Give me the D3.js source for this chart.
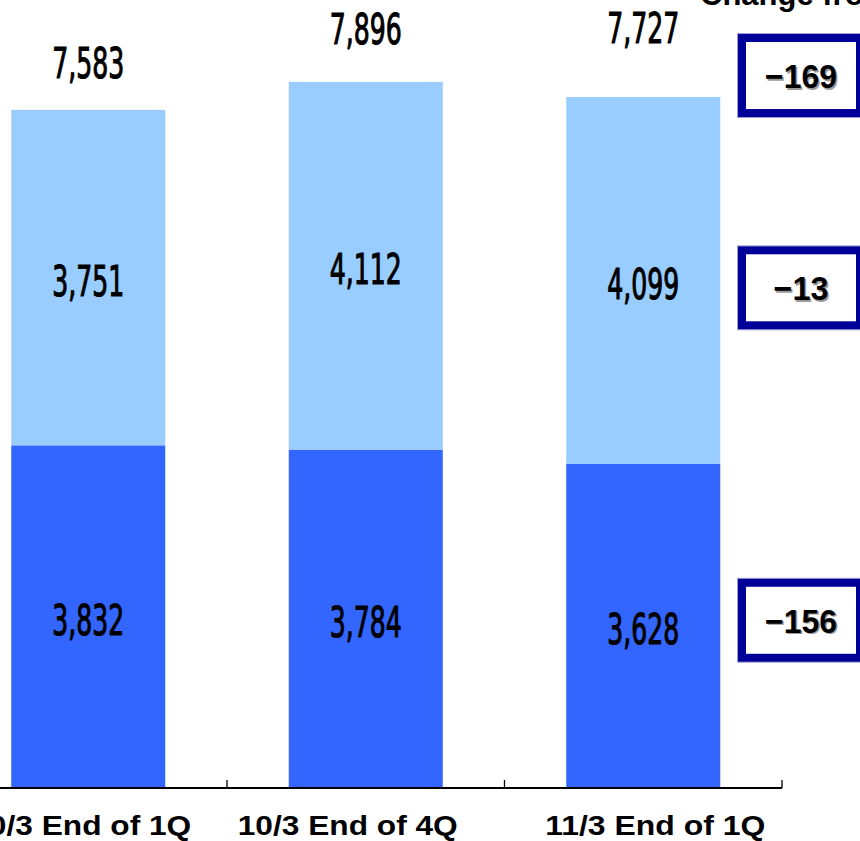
<!DOCTYPE html>
<html>
<head>
<meta charset="utf-8">
<script src="https://cdn.jsdelivr.net/npm/d3@7"></script>
<style>
  html, body { margin: 0; padding: 0; background: #fff; }
  svg { display: block; }
</style>
</head>
<body>
<svg id="chart" width="860" height="841"></svg>
<script>
// Periods shown on the x axis
const categories = ["10/3 End of 1Q", "10/3 End of 4Q", "11/3 End of 1Q"];
// Stacked series (bottom segment, top segment)
const lowerValues = [3832, 3784, 3628];
const upperValues = [3751, 4112, 4099];
const totals = [7583, 7896, 7727];
// Change panel heading
const changeTitle = "Change from the end of 4Q";

const fmt = d3.format(",");
const baseY = 788;

const svg = d3.select("#chart");

const x = d3.scaleBand()
  .domain(categories)
  .range([-50.5, 782])
  .paddingInner(0.445)
  .paddingOuter(0.2225);
const step = x.step();
const bw = x.bandwidth();

const y = d3.scaleLinear().domain([0, 8812]).range([baseY, 0]);

const numFont = "'Liberation Sans Narrow', 'Arial Narrow', 'DejaVu Sans Condensed', sans-serif";
const labelFont = "'Liberation Sans', Arial, sans-serif";

// Bars
const g = svg.append("g");
categories.forEach((c, i) => {
  g.append("rect")
    .attr("x", x(c)).attr("width", bw)
    .attr("y", y(lowerValues[i]))
    .attr("height", baseY - y(lowerValues[i]))
    .attr("fill", "#3366FF");
  g.append("rect")
    .attr("x", x(c)).attr("width", bw)
    .attr("y", y(lowerValues[i] + upperValues[i]))
    .attr("height", y(lowerValues[i]) - y(lowerValues[i] + upperValues[i]))
    .attr("fill", "#99CCFF");
});

// Value labels in condensed digits
function numLabel(cx, cy, v) {
  svg.append("text")
    .attr("x", cx).attr("y", cy + 15.5)
    .attr("text-anchor", "middle")
    .attr("font-family", numFont)
    .attr("font-size", 43)
    .attr("textLength", 72)
    .attr("lengthAdjust", "spacingAndGlyphs")
    .attr("fill", "#000")
    .attr("stroke", "#000")
    .attr("stroke-width", 1.1)
    .text(fmt(v));
}
const totalLabelRise = [47, 53, 70];
categories.forEach((c, i) => {
  const cx = x(c) + bw / 2;
  numLabel(cx, (y(lowerValues[i]) + baseY) / 2 + 3, lowerValues[i]);
  numLabel(cx, (y(lowerValues[i]) + y(totals[i])) / 2 + 3, upperValues[i]);
  numLabel(cx, y(totals[i]) - totalLabelRise[i], totals[i]);
});

// X axis line with ticks between categories
const axisG = svg.append("g");
axisG.append("line")
  .attr("x1", x.range()[0]).attr("x2", x.range()[1])
  .attr("y1", baseY).attr("y2", baseY)
  .attr("stroke", "#000").attr("stroke-width", 2);
d3.range(categories.length + 1).forEach(k => {
  const tx = x.range()[0] + k * step;
  axisG.append("line")
    .attr("x1", tx).attr("x2", tx)
    .attr("y1", baseY).attr("y2", baseY - 8)
    .attr("stroke", "#000").attr("stroke-width", 1.3);
});

// Category labels
const catShift = [-7, -18, 12];
categories.forEach((c, i) => {
  svg.append("text")
    .attr("x", x(c) + bw / 2 + catShift[i])
    .attr("y", 835)
    .attr("text-anchor", "middle")
    .attr("font-family", labelFont)
    .attr("font-weight", "bold")
    .attr("font-size", 27)
    .attr("textLength", 220)
    .attr("lengthAdjust", "spacingAndGlyphs")
    .attr("fill", "#000")
    .text(c);
});

// Change from the previous period, boxed beside the last bar
const last = categories.length - 1;
const prev = last - 1;
const changes = [
  { v: totals[last] - totals[prev], cy: y(totals[last]) - 21.5 },
  { v: upperValues[last] - upperValues[prev], cy: (y(lowerValues[last]) + y(totals[last])) / 2 + 7.5 },
  { v: lowerValues[last] - lowerValues[prev], cy: (y(lowerValues[last]) + baseY) / 2 - 5.5 }
];
const boxL = 738, boxW = 126, boxH = 83;
changes.forEach(d => {
  const top = d.cy - boxH / 2;
  svg.append("rect")
    .attr("x", boxL - 0.5).attr("y", top - 0.5)
    .attr("width", boxW + 1).attr("height", boxH + 1)
    .attr("fill", "none").attr("stroke", "#9fa0d0").attr("stroke-width", 1);
  svg.append("rect")
    .attr("x", boxL + 4).attr("y", top + 4)
    .attr("width", boxW - 8).attr("height", boxH - 8)
    .attr("fill", "#fff").attr("stroke", "#000099").attr("stroke-width", 8);
  const s = (d.v < 0 ? "\u2212" : "+") + Math.abs(d.v);
  const tl = s.length === 4 ? 72 : 55;
  [["#9a9a9a", 1.5], ["#000", 0]].forEach(([col, off]) => {
    svg.append("text")
      .attr("x", boxL + boxW / 2 + off)
      .attr("y", d.cy + 12.5 + off)
      .attr("text-anchor", "middle")
      .attr("font-family", labelFont)
      .attr("font-weight", "bold")
      .attr("font-size", 34)
      .attr("textLength", tl)
      .attr("lengthAdjust", "spacingAndGlyphs")
      .attr("fill", col)
      .text(s);
  });
});

// Panel heading (runs off the top edge)
svg.append("text")
  .attr("x", 700).attr("y", 5)
  .attr("font-family", labelFont)
  .attr("font-weight", "bold")
  .attr("font-size", 31)
  .attr("fill", "#000")
  .text(changeTitle);
</script>
</body>
</html>
